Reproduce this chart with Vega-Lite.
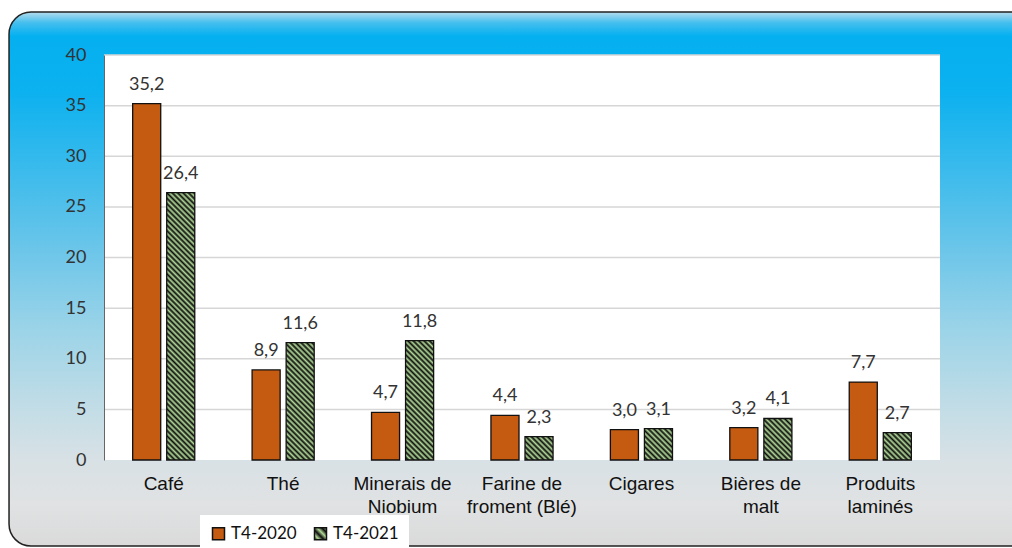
{
  "$schema": "https://vega.github.io/schema/vega-lite/v6.json",
  "width": 836,
  "height": 405,
  "autosize": "none",
  "padding": {"left": 104, "top": 55, "right": 72, "bottom": 88},
  "background": "white",
  "params": [
    {"name": "hatch", "value": [
      {"offset": 0, "color": "#b0d896"}, {"offset": 0.009, "color": "#0d0d0d"},
      {"offset": 0.018, "color": "#b0d896"}, {"offset": 0.027, "color": "#0d0d0d"},
      {"offset": 0.036, "color": "#b0d896"}, {"offset": 0.045, "color": "#0d0d0d"},
      {"offset": 0.054, "color": "#b0d896"}, {"offset": 0.063, "color": "#0d0d0d"},
      {"offset": 0.072, "color": "#b0d896"}, {"offset": 0.081, "color": "#0d0d0d"},
      {"offset": 0.09, "color": "#b0d896"}, {"offset": 0.099, "color": "#0d0d0d"},
      {"offset": 0.108, "color": "#b0d896"}, {"offset": 0.117, "color": "#0d0d0d"},
      {"offset": 0.126, "color": "#b0d896"}, {"offset": 0.135, "color": "#0d0d0d"},
      {"offset": 0.144, "color": "#b0d896"}, {"offset": 0.153, "color": "#0d0d0d"},
      {"offset": 0.162, "color": "#b0d896"}, {"offset": 0.171, "color": "#0d0d0d"},
      {"offset": 0.18, "color": "#b0d896"}, {"offset": 0.189, "color": "#0d0d0d"},
      {"offset": 0.198, "color": "#b0d896"}, {"offset": 0.207, "color": "#0d0d0d"},
      {"offset": 0.216, "color": "#b0d896"}, {"offset": 0.225, "color": "#0d0d0d"},
      {"offset": 0.234, "color": "#b0d896"}, {"offset": 0.243, "color": "#0d0d0d"},
      {"offset": 0.252, "color": "#b0d896"}, {"offset": 0.261, "color": "#0d0d0d"},
      {"offset": 0.27, "color": "#b0d896"}, {"offset": 0.279, "color": "#0d0d0d"},
      {"offset": 0.288, "color": "#b0d896"}, {"offset": 0.297, "color": "#0d0d0d"},
      {"offset": 0.306, "color": "#b0d896"}, {"offset": 0.315, "color": "#0d0d0d"},
      {"offset": 0.324, "color": "#b0d896"}, {"offset": 0.333, "color": "#0d0d0d"},
      {"offset": 0.342, "color": "#b0d896"}, {"offset": 0.351, "color": "#0d0d0d"},
      {"offset": 0.36, "color": "#b0d896"}, {"offset": 0.369, "color": "#0d0d0d"},
      {"offset": 0.378, "color": "#b0d896"}, {"offset": 0.387, "color": "#0d0d0d"},
      {"offset": 0.396, "color": "#b0d896"}, {"offset": 0.405, "color": "#0d0d0d"},
      {"offset": 0.414, "color": "#b0d896"}, {"offset": 0.423, "color": "#0d0d0d"},
      {"offset": 0.432, "color": "#b0d896"}, {"offset": 0.441, "color": "#0d0d0d"},
      {"offset": 0.45, "color": "#b0d896"}, {"offset": 0.459, "color": "#0d0d0d"},
      {"offset": 0.468, "color": "#b0d896"}, {"offset": 0.477, "color": "#0d0d0d"},
      {"offset": 0.486, "color": "#b0d896"}, {"offset": 0.495, "color": "#0d0d0d"},
      {"offset": 0.504, "color": "#b0d896"}, {"offset": 0.513, "color": "#0d0d0d"},
      {"offset": 0.522, "color": "#b0d896"}, {"offset": 0.531, "color": "#0d0d0d"},
      {"offset": 0.54, "color": "#b0d896"}, {"offset": 0.549, "color": "#0d0d0d"},
      {"offset": 0.558, "color": "#b0d896"}, {"offset": 0.567, "color": "#0d0d0d"},
      {"offset": 0.576, "color": "#b0d896"}, {"offset": 0.585, "color": "#0d0d0d"},
      {"offset": 0.594, "color": "#b0d896"}, {"offset": 0.603, "color": "#0d0d0d"},
      {"offset": 0.612, "color": "#b0d896"}, {"offset": 0.621, "color": "#0d0d0d"},
      {"offset": 0.63, "color": "#b0d896"}, {"offset": 0.639, "color": "#0d0d0d"},
      {"offset": 0.648, "color": "#b0d896"}, {"offset": 0.657, "color": "#0d0d0d"},
      {"offset": 0.666, "color": "#b0d896"}, {"offset": 0.675, "color": "#0d0d0d"},
      {"offset": 0.684, "color": "#b0d896"}, {"offset": 0.693, "color": "#0d0d0d"},
      {"offset": 0.702, "color": "#b0d896"}, {"offset": 0.711, "color": "#0d0d0d"},
      {"offset": 0.72, "color": "#b0d896"}, {"offset": 0.729, "color": "#0d0d0d"},
      {"offset": 0.738, "color": "#b0d896"}, {"offset": 0.747, "color": "#0d0d0d"},
      {"offset": 0.756, "color": "#b0d896"}, {"offset": 0.765, "color": "#0d0d0d"},
      {"offset": 0.774, "color": "#b0d896"}, {"offset": 0.783, "color": "#0d0d0d"},
      {"offset": 0.792, "color": "#b0d896"}, {"offset": 0.801, "color": "#0d0d0d"},
      {"offset": 0.81, "color": "#b0d896"}, {"offset": 0.819, "color": "#0d0d0d"},
      {"offset": 0.828, "color": "#b0d896"}, {"offset": 0.837, "color": "#0d0d0d"},
      {"offset": 0.846, "color": "#b0d896"}, {"offset": 0.855, "color": "#0d0d0d"},
      {"offset": 0.864, "color": "#b0d896"}, {"offset": 0.873, "color": "#0d0d0d"},
      {"offset": 0.882, "color": "#b0d896"}, {"offset": 0.891, "color": "#0d0d0d"},
      {"offset": 0.9, "color": "#b0d896"}, {"offset": 0.909, "color": "#0d0d0d"},
      {"offset": 0.918, "color": "#b0d896"}, {"offset": 0.927, "color": "#0d0d0d"},
      {"offset": 0.936, "color": "#b0d896"}, {"offset": 0.945, "color": "#0d0d0d"},
      {"offset": 0.954, "color": "#b0d896"}, {"offset": 0.963, "color": "#0d0d0d"},
      {"offset": 0.972, "color": "#b0d896"}, {"offset": 0.981, "color": "#0d0d0d"},
      {"offset": 0.99, "color": "#b0d896"}, {"offset": 0.999, "color": "#0d0d0d"}
    ]}
  ],
  "datasets": {
    "bars": [
      {"product": "Café", "year": "T4-2020", "value": 35.2},
      {"product": "Café", "year": "T4-2021", "value": 26.4},
      {"product": "Thé", "year": "T4-2020", "value": 8.9},
      {"product": "Thé", "year": "T4-2021", "value": 11.6},
      {"product": "Minerais de Niobium", "year": "T4-2020", "value": 4.7},
      {"product": "Minerais de Niobium", "year": "T4-2021", "value": 11.8},
      {"product": "Farine de froment (Blé)", "year": "T4-2020", "value": 4.4},
      {"product": "Farine de froment (Blé)", "year": "T4-2021", "value": 2.3},
      {"product": "Cigares", "year": "T4-2020", "value": 3.0},
      {"product": "Cigares", "year": "T4-2021", "value": 3.1},
      {"product": "Bières de malt", "year": "T4-2020", "value": 3.2},
      {"product": "Bières de malt", "year": "T4-2021", "value": 4.1},
      {"product": "Produits laminés", "year": "T4-2020", "value": 7.7},
      {"product": "Produits laminés", "year": "T4-2021", "value": 2.7}
    ],
    "grid": [
      {"v": 5}, {"v": 10}, {"v": 15}, {"v": 20}, {"v": 25}, {"v": 30}, {"v": 35}, {"v": 40}
    ],
    "one": [{"k": 1}]
  },
  "resolve": {"scale": {"x": "independent"}},
  "layer": [
    {
      "data": {"name": "one"},
      "mark": {
        "type": "rect",
        "cornerRadius": 22,
        "stroke": "#222222",
        "strokeWidth": 1.5,
        "clip": false,
        "fill": {
          "gradient": "linear", "x1": 0, "y1": 0, "x2": 0, "y2": 1,
          "stops": [
            {"offset": 0, "color": "#b5dced"},
            {"offset": 0.02, "color": "#45bfee"},
            {"offset": 0.045, "color": "#05b0f0"},
            {"offset": 0.15, "color": "#0cb1ef"},
            {"offset": 0.3, "color": "#3cbbec"},
            {"offset": 0.45, "color": "#6dc6e9"},
            {"offset": 0.6, "color": "#9dd4e8"},
            {"offset": 0.75, "color": "#c4dde6"},
            {"offset": 0.84, "color": "#d8e1e5"},
            {"offset": 0.92, "color": "#e0e2e3"},
            {"offset": 1, "color": "#dadada"}
          ]
        }
      },
      "encoding": {
        "x": {"datum": -0.1136, "type": "quantitative", "scale": {"domain": [0, 1], "nice": false, "zero": false}, "axis": null},
        "x2": {"datum": 1.122},
        "y": {"datum": 44.25, "type": "quantitative", "scale": {"domain": [0, 40]}},
        "y2": {"datum": -8.5}
      }
    },
    {
      "layer": [
        {
          "data": {"name": "one"},
          "mark": {"type": "rect", "fill": "white"},
          "encoding": {}
        },
        {
          "data": {"name": "grid"},
          "mark": {"type": "rule", "stroke": "#d6d6d6", "strokeWidth": 1.5},
          "encoding": {
            "y": {"field": "v", "type": "quantitative", "scale": {"domain": [0, 40]}}
          }
        },
        {
          "data": {"name": "bars"},
          "mark": {"type": "bar", "strokeWidth": 1.3},
          "encoding": {
            "x": {
              "field": "product", "type": "nominal", "sort": null,
              "scale": {"paddingInner": 0.48, "paddingOuter": 0.24},
              "axis": {
                "title": null, "domain": false, "ticks": false, "grid": false, "labelAngle": 0,
                "labelFont": "Liberation Sans", "labelFontSize": 19, "labelColor": "#111111",
                "labelPadding": 14, "labelLineHeight": 23, "zindex": 1,
                "labelExpr": "datum.value == 'Minerais de Niobium' ? ['Minerais de', 'Niobium'] : datum.value == 'Farine de froment (Blé)' ? ['Farine de', 'froment (Blé)'] : datum.value == 'Bières de malt' ? ['Bières de', 'malt'] : datum.value == 'Produits laminés' ? ['Produits', 'laminés'] : datum.label"
              }
            },
            "xOffset": {"field": "year", "type": "nominal", "scale": {"paddingInner": 0.176, "paddingOuter": 0}},
            "y": {
              "field": "value", "type": "quantitative", "scale": {"domain": [0, 40]},
              "axis": {
                "title": null, "values": [0, 5, 10, 15, 20, 25, 30, 35, 40], "grid": false, "ticks": false,
                "domain": true, "domainColor": "#666666", "domainWidth": 1,
                "labelFont": "Lato", "labelFontSize": 18, "labelColor": "#333333", "labelPadding": 18,
                "zindex": 1
              }
            },
            "stroke": {
              "field": "year", "type": "nominal",
              "scale": {"domain": ["T4-2020", "T4-2021"], "range": ["#111111", "#111111"]},
              "legend": {
                "orient": "none", "legendX": 96, "legendY": 460, "direction": "horizontal",
                "title": null, "symbolType": "square", "symbolSize": 144,
                "symbolStrokeWidth": 1.5, "symbolOpacity": 1,
                "labelFont": "Lato", "labelFontSize": 17, "labelColor": "#111111",
                "labelOffset": 4, "columnPadding": 14, "padding": 10,
                "fillColor": "white", "zindex": 1
              }
            },
            "fill": {"value": {"expr": "(datum.year || datum.value) === 'T4-2020' ? '#C55A11' : (datum.year ? {gradient: 'linear', x1: 0, y1: 1, x2: 8400 / (784 + pow(datum.value * 10.125, 2)), y2: 1 - (8400 / (784 + pow(datum.value * 10.125, 2))) * datum.value * 10.125 / 28, stops: hatch} : {gradient: 'linear', x1: 0, y1: 1, x2: 1, y2: 0, stops: [{offset: 0, color: '#0d0d0d'}, {offset: 0.2, color: '#b0d896'}, {offset: 0.4, color: '#0d0d0d'}, {offset: 0.6, color: '#b0d896'}, {offset: 0.8, color: '#0d0d0d'}, {offset: 1, color: '#b0d896'}]})"}}
          }
        },
        {
          "data": {"name": "bars"},
          "mark": {"type": "text", "font": "Lato", "fontSize": 18, "color": "#333333", "baseline": "alphabetic", "dy": -14},
          "encoding": {
            "x": {"field": "product", "type": "nominal", "sort": null},
            "xOffset": {"field": "year", "type": "nominal"},
            "y": {"field": "value", "type": "quantitative"},
            "text": {"value": {"expr": "replace(format(datum.value, '.1f'), '.', ',')"}}
          }
        }
      ]
    }
  ],
  "config": {
    "view": {"stroke": null},
    "axisY": {"grid": false}
  }
}
